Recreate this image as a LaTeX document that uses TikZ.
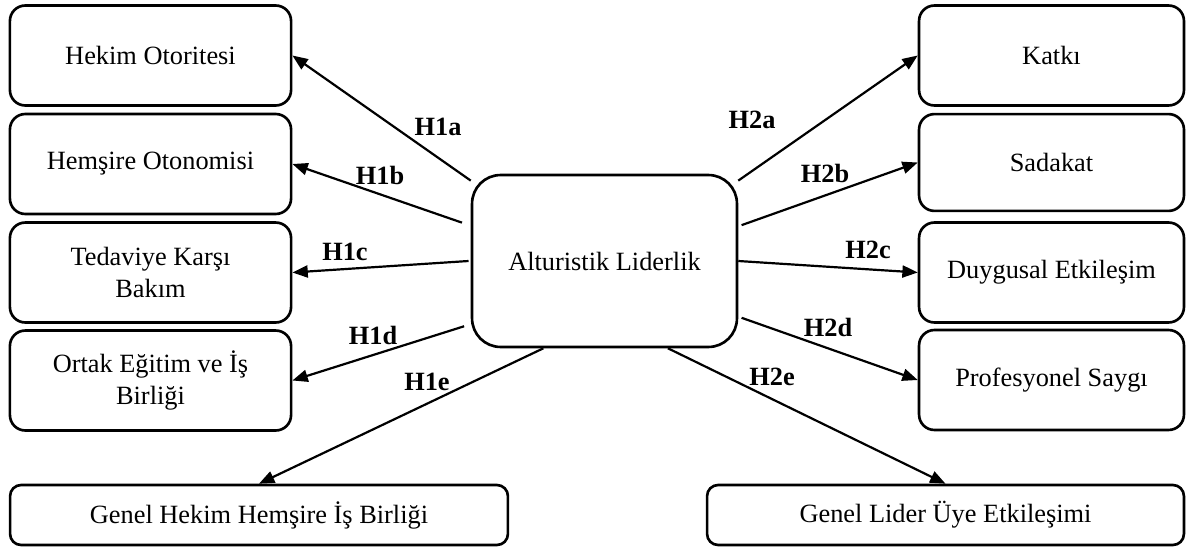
\documentclass[tikz,border=0pt]{standalone}
\usepackage{fontspec}
\setmainfont{Liberation Serif}
\usetikzlibrary{arrows.meta}

\tikzset{
  kutu/.style={rectangle,rounded corners=7pt,draw=black,line width=1.2pt,
    minimum width=4.5cm,minimum height=1.6cm,align=center,
    font=\fontsize{12}{14.5}\selectfont},
  genis/.style={kutu,rounded corners=5pt,minimum height=0.96cm},
  ok/.style={-{Triangle[length=7pt,width=5.5pt]},line width=1pt},
  hip/.style={font=\fontsize{12}{14.5}\selectfont\bfseries}
}

\begin{document}
\begin{tikzpicture}[x=0.016cm,y=-0.016cm]
\useasboundingbox (0,0) rectangle (1186,547);
\node[kutu,rounded corners=13pt,minimum width=4.24cm,minimum height=2.752cm] (al) at (604.5,261){Alturistik Liderlik};
% sol taraf
\node[kutu] (ho) at (150.5,55.5){Hekim Otoritesi};
\node[kutu] (hot) at (150.5,164){Hemşire Otonomisi};
\node[kutu] (tkb) at (150.5,272.5){Tedaviye Karşı\\Bakım};
\node[kutu] (oeb) at (150.5,380.5){Ortak Eğitim ve İş\\Birliği};
\node[genis,minimum width=7.968cm] (ghh) at (259,515){Genel Hekim Hemşire İş Birliği};
% sag taraf
\node[kutu,minimum width=4.24cm] (ka) at (1051.5,55.5){Katkı};
\node[kutu,minimum width=4.24cm,minimum height=1.55cm] (sa) at (1051.5,162.5){Sadakat};
\node[kutu,minimum width=4.24cm] (de) at (1051.5,272.5){Duygusal Etkileşim};
\node[kutu,minimum width=4.24cm] (ps) at (1051.5,380){Profesyonel Saygı};
\node[genis,minimum width=7.632cm] (gle) at (945.5,515){Genel Lider Üye Etkileşimi};

    \draw[ok] (al.149) -- (ho.east);
    \draw[ok] ([xshift=-4pt]al.164) -- (hot.east);
    \draw[ok] ([xshift=-1pt]al.west) -- (tkb.east);
    \draw[ok] ([xshift=-3pt]al.206) -- (oeb.east);
    \draw[ok] (al.235) -- (ghh.north);
    \draw[ok] (al.31) -- (ka.west);
    \draw[ok] ([xshift=1.5pt]al.15) -- (sa.west);
    \draw[ok] (al.east) -- (de.west);
    \draw[ok] ([xshift=1.5pt]al.-23) -- (ps.west);
    \draw[ok] (al.-54) -- (gle.north);

\node[hip] (h1a) at (438,127){H1a};
\node[hip] (h1b) at (380,175){H1b};
\node[hip] (h1c) at (345,252){H1c};
\node[hip] (h1d) at (373,335){H1d};
\node[hip] (h1e) at (427,382){H1e};
\node[hip] (h2a) at (752,120){H2a};
\node[hip] (h2b) at (825,173){H2b};
\node[hip] (h2c) at (868,250){H2c};
\node[hip] (h2d) at (828,327){H2d};
\node[hip] (h2e) at (772,377){H2e};

\end{tikzpicture}
\end{document}
